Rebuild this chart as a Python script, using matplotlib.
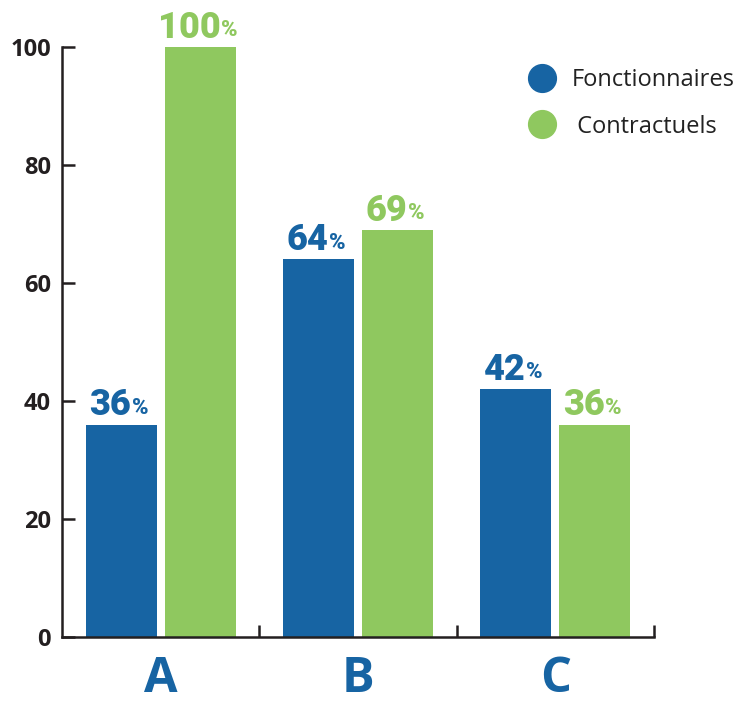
import numpy as np
import matplotlib.pyplot as plt
from matplotlib.lines import Line2D

# data
groups = ['A', 'B', 'C']
fonctionnaires = [36, 64, 42]
contractuels = [100, 69, 36]
series_names = ['Fonctionnaires', 'Contractuels']
yticks = [0, 20, 40, 60, 80, 100]

blue = '#1764A3'
green = '#8FC85F'
ink = '#231F20'

fig = plt.figure(figsize=(7.55, 7.04), dpi=100)
ax = fig.add_axes([0.0821, 0.0952, 0.784, 0.838])

x = np.arange(len(groups))
w = 0.36
b1 = ax.bar(x - 0.2, fonctionnaires, w, color=blue)
b2 = ax.bar(x + 0.2, contractuels, w, color=green)

ax.set_xlim(-0.5, len(groups) - 0.5)
ax.set_ylim(0, 100)

for s in ['top', 'right']:
    ax.spines[s].set_visible(False)
for s in ['left', 'bottom']:
    ax.spines[s].set_linewidth(1.8)
    ax.spines[s].set_color(ink)

ax.set_yticks(yticks)
ax.set_yticklabels([str(v) for v in yticks], fontsize=17, fontweight='bold',
                   family=['Open Sans', 'DejaVu Sans'], color=ink)
ax.tick_params(axis='y', direction='in', length=9, width=1.8, color=ink, pad=8)

ax.set_xticks(x)
ax.set_xticklabels(groups, fontsize=35, fontweight='bold', color=blue,
                   family=['Open Sans', 'DejaVu Sans'])
ax.tick_params(axis='x', which='major', length=0, pad=13)
ax.set_xticks(list(x + 0.5), minor=True)
ax.tick_params(axis='x', which='minor', direction='in', length=9, width=1.8, color=ink)

# value labels: big number + small percent sign
def label(bars, vals, col):
    for r, v in zip(bars, vals):
        cx = r.get_x() + r.get_width() / 2
        t = ax.annotate(str(v), (cx, v), xytext=(-8, 1), textcoords='offset points',
                        ha='center', va='bottom', fontsize=26, fontweight='black',
                        color=col, family=['Roboto', 'DejaVu Sans'], annotation_clip=False)
        ax.annotate('%', xy=(1, 0.12), xycoords=t, xytext=(0.5, 0), textcoords='offset points',
                    ha='left', va='bottom', fontsize=16, fontweight='black', color=col,
                    family=['Roboto', 'DejaVu Sans'], annotation_clip=False)

label(b1, fonctionnaires, blue)
label(b2, contractuels, green)

handles = [Line2D([], [], ls='none', marker='o', markersize=20, color=blue),
           Line2D([], [], ls='none', marker='o', markersize=20, color=green)]
leg = ax.legend(handles, [series_names[0], ' ' + series_names[1]], loc='upper left',
                bbox_to_anchor=(0.735, 1.0), frameon=False,
                handletextpad=0.25, labelspacing=0.95,
                prop={'family': ['Open Sans', 'DejaVu Sans'], 'size': 17})
for t in leg.get_texts():
    t.set_color('#222222')

fig.savefig('out.png', dpi=100)
